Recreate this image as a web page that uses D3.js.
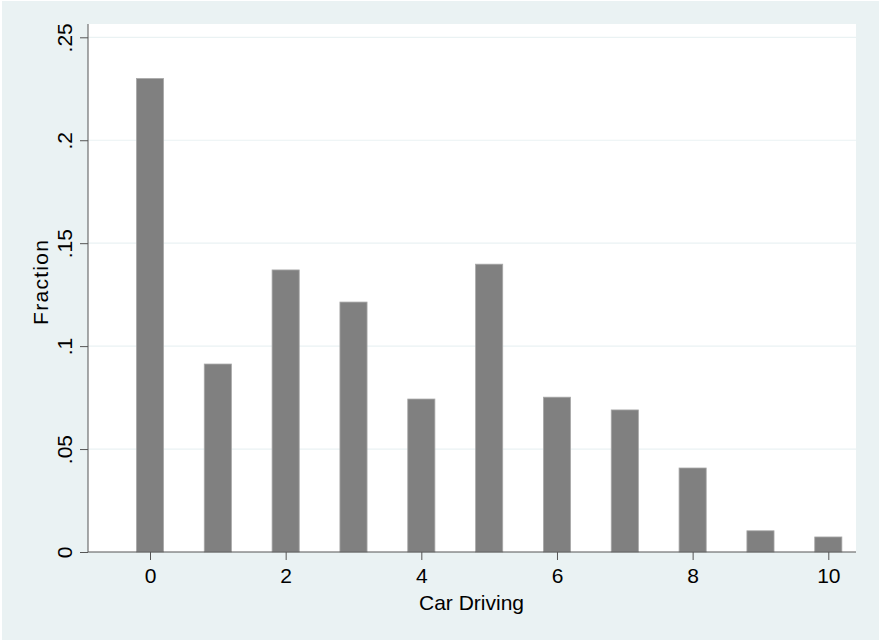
<!DOCTYPE html>
<html><head><meta charset="utf-8">
<script src="https://cdn.jsdelivr.net/npm/d3@7"></script>
<style>body{margin:0;background:#fff;} text{font-family:"Liberation Sans",Arial,Helvetica,sans-serif;fill:#000;}</style>
</head><body>
<svg id="c" width="879" height="641"></svg>
<script>
const categories = [0,1,2,3,4,5,6,7,8,9,10];
const fractions = [0.230,0.0913,0.137,0.1214,0.0743,0.1398,0.0752,0.069,0.0408,0.0103,0.0073];
const yTicks = [0,0.05,0.1,0.15,0.2,0.25];
const yTickLabels = ["0",".05",".1",".15",".2",".25"];
const xTicks = [0,2,4,6,8,10];
const xTitle = "Car Driving";
const yTitle = "Fraction";

const svg = d3.select("#c");
svg.append("rect").attr("x",2).attr("y",1).attr("width",877).attr("height",639).attr("fill","#EAF2F3");
const L=88,R=856,T=24,B=552;
svg.append("rect").attr("x",L).attr("y",T).attr("width",R-L).attr("height",B-T).attr("fill","#fff");

const x = d3.scaleLinear().domain([0,10]).range([150,828.3]);
const y = d3.scaleLinear().domain([0,0.25]).range([B,37.3]);

// gridlines
svg.append("g").selectAll("line").data(yTicks.filter(d=>d>0)).join("line")
  .attr("x1",L).attr("x2",R).attr("y1",d=>y(d)).attr("y2",d=>y(d))
  .attr("stroke","#EAF2F3").attr("stroke-width",1.2);

// bars
const bw = (x(1)-x(0))*0.4;
svg.append("g").selectAll("rect").data(categories).join("rect")
  .attr("x",(d)=>x(d)-bw/2).attr("width",bw)
  .attr("y",(d,i)=>y(fractions[i])).attr("height",(d,i)=>B-y(fractions[i]))
  .attr("fill","#808080").attr("stroke","#a8a8a8").attr("stroke-width",0.8);

// axes
const yAxis = d3.axisLeft(y).tickValues(yTicks).tickFormat((d,i)=>yTickLabels[i]).tickSize(8).tickPadding(5);
const gy = svg.append("g").attr("transform",`translate(${L},0)`).call(yAxis);
gy.select(".domain").attr("stroke","#555").attr("d",`M0,${T}V${B}`);
gy.selectAll(".tick line").attr("stroke","#555");
gy.selectAll(".tick text").attr("font-size",21).attr("fill","#000")
  .attr("text-anchor","middle").attr("dy",0).attr("x",0)
  .attr("transform","translate(-16,0) rotate(-90)");

const xAxis = d3.axisBottom(x).tickValues(xTicks).tickFormat(d3.format("d")).tickSize(8).tickPadding(8);
const gx = svg.append("g").attr("transform",`translate(0,${B})`).call(xAxis);
gx.select(".domain").attr("stroke","#555").attr("d",`M${L},0H${R}`);
gx.selectAll(".tick line").attr("stroke","#555");
gx.selectAll(".tick text").attr("font-size",21).attr("fill","#000");

svg.append("text").attr("x",471.5).attr("y",610).attr("text-anchor","middle").attr("font-size",21)
  .attr("textLength",105).attr("lengthAdjust","spacing").text(xTitle);
svg.append("text").attr("transform",`translate(48,282.5) rotate(-90)`).attr("text-anchor","middle").attr("font-size",21)
  .attr("textLength",85).attr("lengthAdjust","spacing").text(yTitle);
</script>
</body></html>
